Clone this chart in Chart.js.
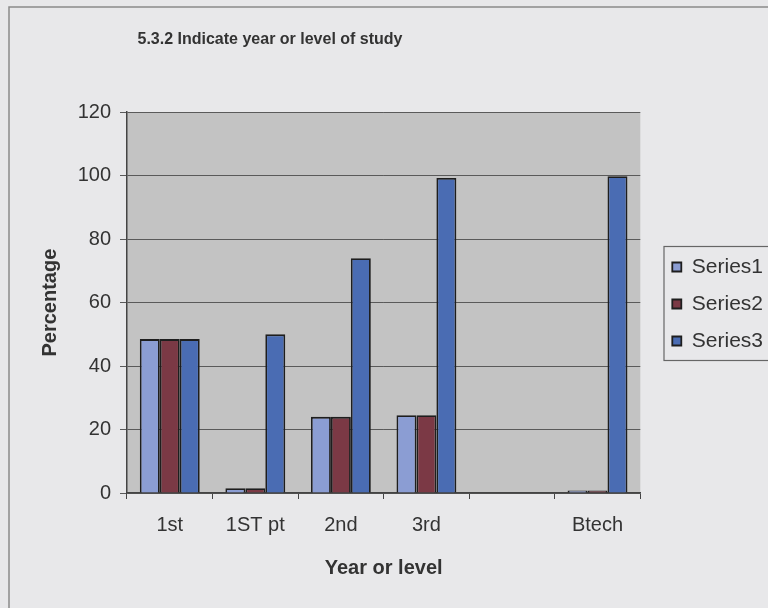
<!DOCTYPE html>
<html>
<head>
<meta charset="utf-8">
<script src="https://cdn.jsdelivr.net/npm/chart.js@4.4.0/dist/chart.umd.min.js"></script>
<style>
  html, body { margin: 0; padding: 0; background: #e8e8ea; }
  #wrap { width: 768px; height: 608px; overflow: hidden; position: relative; }
  canvas { position: absolute; left: 0; top: 0; }
</style>
</head>
<body>
<div id="wrap"><canvas id="c" width="790" height="608"></canvas></div>
<script>
const categories = ['1st', '1ST pt', '2nd', '3rd', '', 'Btech']
const series1 = [48.5, 1.5, 24, 24.5, 0, 0.8]
const series2 = [48.5, 1.5, 24, 24.5, 0, 0.8]
const series3 = [48.5, 50, 74, 99.3, 0, 99.8]
const yTicks = [0, 20, 40, 60, 80, 100, 120]

const titleText = '5.3.2 Indicate year or level of study'
const inkColor = '#333'

// page background, outer frame, grey plot area, legend border
const paper = {
  id: 'paper',
  afterLayout(chart) {
    // title sits left of centre in the scan, legend a bit right of the plot
    chart.titleBlock.right = 2 * 270 - chart.titleBlock.left
    chart.legend.left += 16
    chart.legend.right += 16
  },
  beforeDraw(chart) {
    const {ctx, chartArea: a} = chart
    ctx.save()
    ctx.fillStyle = '#e8e8ea'
    ctx.fillRect(0, 0, chart.width, chart.height)
    ctx.strokeStyle = '#8a8a8a'
    ctx.lineWidth = 1.5
    ctx.strokeRect(9, 7, chart.width + 20, chart.height + 20)
    ctx.fillStyle = '#c3c3c3'
    ctx.fillRect(a.left, a.top, a.right - a.left, a.bottom - a.top)
    ctx.restore()
  },
  afterDraw(chart) {
    const {ctx} = chart
    const boxes = chart.legend.legendHitBoxes
    if (!boxes || !boxes.length) return
    const top = boxes[0].top - 10
    const bottom = boxes[boxes.length - 1].top + boxes[boxes.length - 1].height + 9
    ctx.save()
    ctx.strokeStyle = '#666'
    ctx.lineWidth = 1.2
    ctx.strokeRect(664, top, 200, bottom - top)
    ctx.restore()
  }
}

new Chart(document.getElementById('c'), {
  type: 'bar',
  data: {
    labels: categories,
    datasets: [
      {label: 'Series1', data: series1, backgroundColor: '#8b9dd3'},
      {label: 'Series2', data: series2, backgroundColor: '#7b3945'},
      {label: 'Series3', data: series3, backgroundColor: '#4a6cb3'}
    ].map(d => ({...d, borderColor: '#1e1e1e', borderWidth: 1.8,
      categoryPercentage: 0.7, barPercentage: 1}))
  },
  plugins: [paper],
  options: {
    responsive: false,
    animation: false,
    devicePixelRatio: 1,
    layout: {padding: {left: 0, right: 33, top: 0, bottom: 0}},
    plugins: {
      title: {
        display: true,
        text: titleText,
        color: inkColor,
        font: {family: "'Liberation Sans', Arial", size: 16, weight: 'bold'},
        padding: {top: 30, bottom: 63}
      },
      legend: {
        position: 'right',
        labels: {
          boxWidth: 9,
          boxHeight: 9,
          padding: 16,
          color: inkColor,
          font: {family: "'Liberation Sans', Arial", size: 21}
        }
      },
      tooltip: {enabled: false}
    },
    scales: {
      x: {
        afterFit: s => { s.height = 115 },
        grid: {drawOnChartArea: false, drawTicks: true, tickLength: 6, color: '#444'},
        border: {color: '#444', width: 1.5},
        ticks: {color: inkColor, padding: 14, font: {family: "'Liberation Sans', Arial", size: 20}},
        title: {
          display: true,
          text: 'Year or level',
          color: inkColor,
          font: {family: "'Liberation Sans', Arial", size: 20, weight: 'bold'},
          padding: {top: 0, bottom: 28}
        }
      },
      y: {
        min: 0,
        max: 120,
        afterFit: s => { s.width = 127 },
        afterBuildTicks: s => { s.ticks = yTicks.map(v => ({value: v})) },
        grid: {color: '#5a5a5a', lineWidth: 1, tickLength: 7},
        border: {color: '#444', width: 1.5},
        ticks: {color: inkColor, padding: 9, font: {family: "'Liberation Sans', Arial", size: 20}},
        title: {
          display: true,
          text: 'Percentage',
          color: inkColor,
          font: {family: "'Liberation Sans', Arial", size: 20, weight: 'bold'},
          padding: {top: 38, bottom: 0}
        }
      }
    }
  }
})
</script>
</body>
</html>
